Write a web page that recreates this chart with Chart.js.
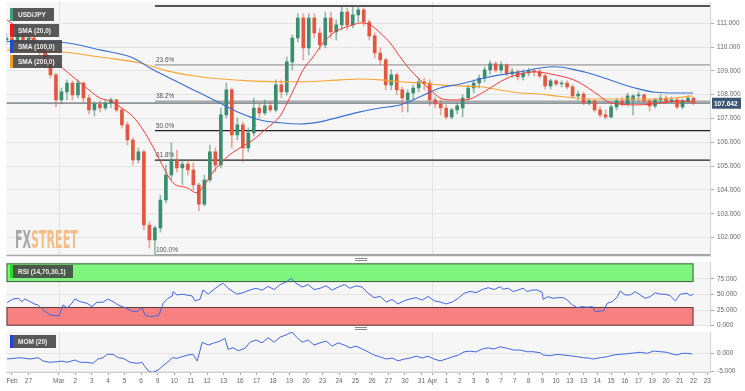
<!DOCTYPE html>
<html>
<head>
<meta charset="utf-8">
<script src="https://cdn.jsdelivr.net/npm/chart.js@4.4.1/dist/chart.umd.min.js"></script>
<style>
body{margin:0;background:#fff;width:745px;height:391px;overflow:hidden;position:relative;font-family:Arial,"Liberation Sans",sans-serif}
canvas{position:absolute;left:0}
.tag{position:absolute;left:10px;height:13px;box-sizing:border-box;border-left:3px solid;background:rgba(66,66,66,.88);color:#eee;font:bold 6.5px Arial,"Liberation Sans",sans-serif;line-height:13px;padding-left:5px;white-space:nowrap}
.handle{position:absolute;left:355px;width:12px;height:1px;border-top:1px solid #888;border-bottom:1px solid #888}
#wm{position:absolute;left:15px;top:226px;font:bold 24px "Liberation Sans Narrow","DejaVu Sans Condensed",Arial,sans-serif;white-space:nowrap;transform-origin:0 0;opacity:.85}
</style>
</head>
<body>
<canvas id="cMain" width="745" height="258" style="top:0"></canvas>
<canvas id="cRsi" width="745" height="70" style="top:258px"></canvas>
<canvas id="cMom" width="745" height="63" style="top:328px"></canvas>

<div class="tag" style="top:8px;width:44px;border-color:#3fa07e">USD/JPY</div>
<div class="tag" style="top:24px;width:49px;border-color:#ee1c1c">SMA (20,0)</div>
<div class="tag" style="top:39.5px;width:52px;border-color:#2050c0">SMA (100,0)</div>
<div class="tag" style="top:55px;width:52px;border-color:#f39c26">SMA (200,0)</div>
<div class="tag" style="top:265px;width:63px;border-color:#22dd22">RSI (14,70,30,1)</div>
<div class="tag" style="top:335px;width:46px;border-color:#2040e0">MOM (20)</div>
<div class="handle" style="top:258px"></div>
<div class="handle" style="top:327px"></div>
<div id="wm"><span style="color:#9a9a9a">FX</span><span style="color:#f3b676">STREET</span></div>

<script>
// 8h candles, one every 2 steps of the x index
const candleOpen = [
  110.30, 110.38, 110.21, 110.47, 110.30, 110.38, 110.13, 109.79, 109.38, 108.83,
  107.78, 108.12, 108.49, 107.99, 108.49, 107.86, 107.36, 107.61, 107.44, 107.65,
  107.78, 107.36, 106.73, 106.10, 105.26, 105.60, 102.53, 101.90, 102.41, 103.58,
  104.63, 105.26, 104.93, 105.09, 104.84, 104.21, 103.41, 104.42, 105.60, 105.05,
  107.15, 108.20, 106.31, 106.73, 105.77, 106.40, 107.44, 107.23, 107.53, 107.36,
  108.41, 108.12, 109.38, 110.38, 111.22, 109.96, 111.22, 110.59, 110.09, 111.22,
  110.63, 110.93, 111.47, 110.93, 111.35, 111.56, 111.05, 110.47, 109.75, 109.46,
  108.41, 108.83, 108.20, 107.78, 108.07, 108.28, 108.54, 108.49, 107.78, 107.61,
  107.44, 107.07, 107.36, 107.44, 107.86, 108.28, 108.49, 108.70, 109.04, 109.29,
  109.04, 109.25, 108.87, 108.96, 108.75, 108.91, 109.00, 108.96, 108.79, 108.37,
  108.58, 108.45, 108.49, 108.33, 107.95, 108.03, 107.65, 107.74, 107.36, 107.15,
  107.07, 107.49, 107.74, 107.61, 107.78, 107.95, 107.99, 107.74, 107.53, 107.78,
  107.86, 107.74, 107.78, 107.49, 107.74, 107.86
];
const candleHigh = [
  110.55, 110.63, 110.72, 110.63, 110.55, 110.51, 110.21, 109.96, 109.54, 108.91,
  108.28, 108.62, 108.58, 108.62, 108.54, 107.99, 107.70, 107.74, 107.78, 107.86,
  107.82, 107.44, 106.86, 106.19, 105.77, 105.68, 102.66, 102.49, 103.79, 105.05,
  105.98, 105.68, 105.26, 105.26, 105.14, 104.30, 104.63, 105.89, 105.77, 107.44,
  108.49, 108.28, 107.02, 106.86, 106.61, 107.86, 107.65, 107.78, 107.70, 108.62,
  108.62, 109.58, 110.51, 111.39, 111.39, 111.39, 111.39, 110.80, 111.47, 111.47,
  111.14, 111.68, 111.64, 111.68, 111.73, 111.64, 111.14, 110.59, 109.96, 109.54,
  109.04, 108.91, 108.33, 108.20, 108.41, 108.70, 108.70, 108.62, 107.91, 107.78,
  107.57, 107.44, 107.65, 107.99, 108.41, 108.62, 108.83, 109.17, 109.42, 109.38,
  109.38, 109.29, 109.12, 109.04, 109.04, 109.12, 109.08, 109.08, 108.87, 108.66,
  108.62, 108.58, 108.58, 108.41, 108.16, 108.12, 107.82, 107.78, 107.49, 107.36,
  107.57, 107.86, 107.91, 108.07, 107.99, 108.12, 108.03, 107.82, 107.86, 107.99,
  107.95, 107.91, 107.86, 107.82, 107.95, 107.91
];
const candleLow = [
  110.13, 110.09, 110.13, 110.13, 110.05, 109.96, 109.67, 109.12, 108.70, 107.49,
  107.61, 107.78, 107.78, 107.86, 107.70, 107.19, 107.11, 107.28, 107.36, 107.44,
  107.28, 106.61, 105.89, 105.05, 105.14, 102.32, 101.57, 101.32, 102.24, 103.46,
  104.42, 104.76, 104.21, 104.63, 104.00, 103.12, 103.33, 104.34, 104.76, 104.93,
  107.02, 105.77, 106.10, 105.18, 105.60, 106.27, 107.02, 107.15, 107.28, 107.28,
  107.86, 107.99, 109.04, 110.21, 109.46, 109.67, 110.38, 109.88, 109.96, 110.38,
  110.30, 110.72, 110.72, 110.80, 111.05, 110.89, 110.30, 109.54, 109.25, 108.20,
  108.20, 107.99, 107.28, 107.28, 107.78, 108.12, 108.20, 107.53, 107.44, 107.15,
  106.98, 106.98, 107.19, 107.07, 107.78, 108.07, 108.28, 108.54, 108.87, 108.96,
  108.91, 108.79, 108.70, 108.62, 108.62, 108.79, 108.79, 108.70, 108.24, 108.24,
  108.37, 108.33, 108.24, 107.86, 107.78, 107.57, 107.57, 107.28, 107.07, 106.98,
  107.02, 107.36, 107.53, 107.53, 107.15, 107.70, 107.65, 107.32, 107.44, 107.65,
  107.65, 107.65, 107.40, 107.40, 107.65, 107.57
];
const candleClose = [
  110.38, 110.21, 110.47, 110.30, 110.38, 110.13, 109.79, 109.38, 108.83, 107.78,
  108.12, 108.49, 107.99, 108.49, 107.86, 107.36, 107.61, 107.44, 107.65, 107.78,
  107.36, 106.73, 106.10, 105.26, 105.60, 102.53, 101.90, 102.41, 103.58, 104.63,
  105.26, 104.93, 105.09, 104.84, 104.21, 103.41, 104.42, 105.60, 105.05, 107.15,
  108.20, 106.31, 106.73, 105.77, 106.40, 107.44, 107.23, 107.53, 107.36, 108.41,
  108.12, 109.38, 110.38, 111.22, 109.96, 111.22, 110.59, 110.09, 111.22, 110.63,
  110.93, 111.47, 110.93, 111.35, 111.56, 111.05, 110.47, 109.75, 109.46, 108.41,
  108.83, 108.20, 107.86, 108.07, 108.28, 108.54, 108.49, 107.78, 107.61, 107.44,
  107.07, 107.36, 107.53, 107.86, 108.28, 108.49, 108.70, 109.04, 109.29, 109.04,
  109.25, 108.87, 108.96, 108.75, 108.91, 109.00, 108.96, 108.79, 108.37, 108.58,
  108.45, 108.49, 108.33, 107.95, 108.03, 107.65, 107.74, 107.36, 107.15, 107.07,
  107.49, 107.74, 107.61, 107.95, 107.95, 107.99, 107.74, 107.53, 107.78, 107.86,
  107.74, 107.78, 107.49, 107.74, 107.86, 107.642
];

// moving averages (x index, value)
const sma20Idx = [0.2, 9.6, 15.8, 22.0, 27.8, 34.0, 38.8, 41.3, 46.1, 49.7, 53.3, 57.0, 60.6, 65.7, 69.3, 71.5, 75.2, 80.3, 85.0, 89.7,
  94.8, 99.6, 102.1, 105.0, 107.9, 111.6, 115.2, 118.9, 122.5, 126.1, 128.7, 132.3, 136.0, 139.6, 143.2, 146.9, 150.5, 154.2, 157.8, 161.4,
  165.1, 168.7, 172.4, 176.0, 179.6, 183.3, 186.9, 192.4, 199.7, 204.4, 208.0, 211.7, 215.3, 218.9, 222.6, 228.8, 235.0, 240.8, 245.9, 249.5];
const sma20Val = [111.14, 110.30, 109.58, 108.96, 108.41, 107.86, 107.70, 107.49, 107.07, 106.52, 105.81, 104.97, 104.30, 104.09, 103.88, 104.13, 104.76, 105.39, 105.77, 106.10,
  106.60, 107.11, 107.65, 108.33, 109.04, 109.59, 110.17, 110.59, 110.80, 110.93, 111.01, 110.93, 110.59, 110.17, 109.59, 109.04, 108.62, 108.20, 107.86, 107.78,
  107.78, 107.82, 108.03, 108.28, 108.54, 108.75, 108.87, 108.96, 108.83, 108.70, 108.54, 108.28, 107.99, 107.70, 107.61, 107.57, 107.61, 107.70, 107.74, 107.70];
const sma100Idx = [0.2, 20.6, 34.0, 46.1, 52.2, 58.4, 65.7, 70.4, 77.7, 85.0, 92.3, 99.6, 106.8, 114.1, 121.4, 128.7, 136.0,
  143.2, 150.5, 157.8, 165.1, 172.4, 179.6, 186.9, 194.2, 199.7, 207.0, 214.2, 221.5, 228.8, 236.1, 243.4, 249.9];
const sma100Val = [110.23, 110.19, 109.88, 109.54, 109.12, 108.75, 108.33, 108.07, 107.65, 107.23, 106.94, 106.82, 106.77, 106.86, 107.07, 107.28, 107.44,
  107.57, 107.91, 108.28, 108.45, 108.66, 108.83, 108.96, 109.12, 109.17, 109.04, 108.83, 108.54, 108.28, 108.10, 108.07, 108.07];
const sma200Idx = [0.2, 20.6, 34.0, 48.6, 58.4, 70.4, 88.6, 106.8, 121.4, 128.7, 136.0, 143.2, 150.5, 157.8, 165.1, 172.4, 179.6,
  186.9, 194.2, 199.7, 207.0, 214.2, 228.8, 236.1, 243.4, 249.5];
const sma200Val = [109.88, 109.79, 109.58, 109.33, 109.00, 108.75, 108.58, 108.54, 108.62, 108.66, 108.62, 108.54, 108.49, 108.41, 108.37, 108.33, 108.20,
  108.07, 108.03, 107.95, 107.86, 107.82, 107.82, 107.82, 107.86, 107.95];

// RSI (14)
const rsiIdx = [0.2, 2.4, 4.2, 5.6, 6.7, 8.6, 10.4, 11.5, 13.3, 15.8, 19.1, 20.6, 22.0, 23.5, 24.9, 26.8, 29.3, 31.1, 32.9, 35.1,
  36.9, 38.8, 40.6, 43.1, 45.7, 47.5, 49.3, 50.4, 52.2, 54.1, 55.5, 57.0, 58.8, 60.3, 60.6, 62.1, 63.9, 67.5, 68.6, 70.4,
  71.5, 73.4, 75.2, 77.7, 78.8, 80.6, 83.9, 86.1, 88.6, 90.8, 93.0, 95.2, 97.4, 99.6, 101.7, 103.6, 105.4, 107.6, 109.8, 111.9,
  114.1, 116.3, 118.5, 120.7, 122.9, 125.0, 127.2, 129.4, 131.6, 133.8, 136.0, 138.2, 140.3, 142.5, 144.7, 146.9, 149.1, 151.3, 153.4, 155.6,
  157.8, 160.0, 162.2, 164.4, 166.5, 168.7, 170.9, 173.1, 175.3, 177.5, 179.6, 180.7, 182.6, 184.4, 186.2, 188.0, 189.5, 191.3, 193.1, 194.9,
  195.3, 197.1, 198.9, 200.8, 202.6, 204.0, 205.9, 207.7, 209.5, 211.3, 213.2, 214.2, 216.1, 217.2, 218.6, 220.5, 222.3, 223.3, 225.1, 227.0,
  228.8, 230.6, 232.4, 234.3, 236.1, 237.9, 239.7, 241.5, 243.4, 245.2, 247.7, 248.8, 249.9];
const rsiVal = [37.0, 42.9, 44.0, 38.6, 42.9, 38.6, 34.4, 33.3, 25.3, 17.2, 15.6, 33.3, 28.5, 34.4, 42.9, 38.6, 36.0, 30.6, 37.6, 37.6,
  42.9, 38.6, 33.3, 28.9, 23.6, 22.5, 28.9, 17.2, 14.5, 15.6, 17.2, 36.0, 44.0, 47.7, 54.6, 49.3, 50.5, 47.7, 39.7, 42.4,
  57.3, 50.5, 57.3, 65.4, 68.1, 60.1, 50.5, 53.0, 57.3, 60, 57, 63, 58, 66, 70, 76, 68, 62, 66, 58,
  60, 64, 57, 62, 66, 60, 64, 62, 52, 45, 47, 38, 42, 35, 40, 43, 45, 41, 47, 40,
  38, 35, 38, 44, 52, 55, 53, 58, 61, 58, 62.6, 58.5, 60.1, 54.6, 57.3, 60.1, 54.6, 57.3, 57.3, 53.6,
  42.4, 46.6, 44.0, 45.0, 45.0, 41.3, 33.3, 28.9, 30.6, 29.6, 30.6, 22.5, 23.6, 23.6, 36.0, 38.6, 46.6, 55.7, 49.3, 49.3,
  54.6, 49.3, 44.0, 46.6, 53.0, 50.5, 50.5, 48.2, 39.7, 50.5, 52.1, 48.2, 50.5];

// Momentum (20)
const momIdx = [0.2, 4.9, 8.6, 11.5, 13.3, 15.8, 18.4, 20.2, 22.0, 24.9, 26.8, 29.3, 31.5, 33.3, 35.1, 36.6, 38.8, 40.6, 42.4, 45.0,
  47.5, 49.3, 50.4, 51.9, 53.3, 55.2, 57.0, 58.8, 60.3, 62.1, 63.9, 66.1, 67.9, 69.4, 71.2, 73.4, 75.2, 77.7, 79.5, 80.6,
  82.5, 84.3, 86.8, 88.6, 90.8, 93.0, 95.2, 97.4, 99.6, 101.7, 103.9, 105.8, 107.6, 109.8, 111.9, 114.1, 116.3, 118.5, 120.7, 122.9,
  125.0, 127.2, 129.4, 131.6, 133.8, 136.0, 138.2, 140.3, 142.5, 144.7, 146.9, 149.1, 151.3, 153.4, 155.6, 157.8, 160.0, 162.2, 164.4, 166.5,
  168.7, 170.9, 173.1, 175.3, 177.5, 179.6, 182.2, 184.4, 186.9, 189.5, 191.6, 194.2, 195.3, 197.9, 200.4, 202.6, 205.1, 207.7, 209.9, 212.4,
  213.5, 216.1, 218.6, 220.8, 223.3, 225.9, 228.1, 230.6, 233.2, 235.4, 237.9, 240.4, 242.6, 244.1, 245.9, 247.7, 249.5];
const momVal = [-1.58, -1.22, -1.58, -1.22, -2.14, -2.50, -2.33, -2.14, -2.50, -1.86, -2.50, -2.50, -2.78, -1.58, -1.22, -0.28, -0.28, -1.22, -1.39, -2.50,
  -2.78, -2.50, -3.72, -5.11, -5.28, -4.64, -3.44, -2.33, -1.22, -1.39, -0.94, -0.47, -0.28, -2.14, 3.06, 2.31, 2.78, 3.42, 4.17, 1.11,
  1.56, 0.72, 1.39, 3.06, 3.7, 2.9, 4.3, 3.1, 4.5, 5.1, 5.9, 4.3, 3.1, 3.7, 2.3, 2.9, 3.4, 2.0, 2.9, 2.3,
  1.5, 2.0, 1.2, 0.4, -0.5, -1.0, -1.6, -1.3, -2.1, -1.6, -1.3, -0.8, -1.3, -0.8, -1.6, -2.1, -1.6, -1.0, -0.5, 0.4,
  0.6, 0.4, 1.2, 1.5, 1.2, 1.83, 1.39, 0.92, 0.92, 0.44, 0.44, 0.17, -0.47, -0.67, -0.28, -0.47, -0.67, -0.94, -1.22, -1.39,
  -1.58, -1.22, -0.94, -0.47, -0.28, -0.11, 0.08, 0.28, 0.00, 0.64, 0.44, 0.28, -0.28, -0.47, 0.00, 0.00, -0.19];

// fibonacci retracement, swing high to swing low
const fibLevels = [111.72, 109.25, 107.72, 106.49, 105.25, 101.25];
const fibLabels = ['', '23.6%', '38.2%', '50.0%', '61.8%', '100.0%'];
const fibStart = 54;
const lastPrice = 107.642;

// axes
const priceTicks = [102, 103, 104, 105, 106, 107, 108, 109, 110, 111];
const rsiTicks = [0, 25, 50, 75];
const rsiUpper = 70, rsiLower = 30, rsiEnd = 250;
const momTicks = [-5, 0];
const monthIdx = [19, 155];
const xTickIdx = [2, 8, 19, 25, 31, 37, 43, 49, 55, 61, 67, 73, 79, 85, 91, 97, 103, 109, 115, 121, 127, 133, 139, 145, 151,
  155, 160, 165, 170, 175, 180, 185, 190, 195, 200, 205, 210, 215, 220, 225, 230, 235, 240, 245, 250, 255];
const xTickLabels = ['Feb', '27', 'Mar', '2', '3', '4', '5', '6', '9', '10', '11', '12', '13', '16', '17', '18', '19', '20', '23', '24', '25', '26', '27', '30', '31',
  'Apr', '1', '2', '3', '6', '7', '7', '8', '9', '10', '13', '13', '14', '15', '16', '17', '19', '20', '21', '22', '23'];

Chart.defaults.font.family = 'Arial, "Liberation Sans", sans-serif';
Chart.defaults.font.size = 6.5;
Chart.defaults.color = '#666';

const X_MAX = 256;
const upCol = '#3b8d6f', downCol = '#e2573f';
const candleX = candleOpen.map((_, k) => k * 2);
const isUp = candleOpen.map((o, k) => candleClose[k] >= o);

const pts = (xs, ys) => xs.map((x, i) => ({ x, y: ys[i] }));

const yAxis = (min, max, ticks) => ({
  position: 'right', min, max,
  afterBuildTicks: s => { s.ticks = ticks.map(v => ({ value: v })); },
  afterFit: s => { s.width = 35; s.paddingTop = 0; s.paddingBottom = 0; },
  ticks: { callback: v => v.toFixed(3), padding: 3, color: '#666' },
  grid: { color: '#e4e4e4', tickColor: '#aaa', tickLength: 4 },
  border: { color: '#d2d2d2' }
});

const base = {
  responsive: false, animation: false, events: [],
  plugins: { legend: { display: false }, tooltip: { enabled: false } }
};

function paintBg(chart) {
  const { ctx, chartArea: a } = chart;
  ctx.save();
  ctx.fillStyle = '#f6f6f6';
  ctx.fillRect(a.left, a.top, a.right - a.left, a.bottom - a.top);
  ctx.restore();
}
function monthLines(chart) {
  const { ctx, chartArea: a, scales: { x } } = chart;
  ctx.save();
  ctx.strokeStyle = '#e3e3e3';
  ctx.lineWidth = 1;
  monthIdx.forEach(m => {
    const px = Math.round(x.getPixelForValue(m)) + 0.5;
    ctx.beginPath(); ctx.moveTo(px, a.top); ctx.lineTo(px, a.bottom); ctx.stroke();
  });
  ctx.restore();
}

const fibColors = ['#1e1e1e', '#b4b4b4', '#a8a8a8', '#1e1e1e', '#1e1e1e', '#a0a0a0'];
const fibWidths = [1.6, 1.6, 1.6, 1.3, 1.3, 1.8];

const mainDecor = {
  id: 'mainDecor',
  beforeDraw: paintBg,
  beforeDatasetsDraw(chart) {
    monthLines(chart);
    const { ctx, chartArea: a, scales: { x, y } } = chart;
    ctx.save();
    const x0 = x.getPixelForValue(fibStart);
    ctx.font = '6.5px Arial, "Liberation Sans", sans-serif';
    ctx.textBaseline = 'bottom';
    fibLevels.forEach((lv, i) => {
      const py = Math.min(y.getPixelForValue(lv), a.bottom - 1);
      ctx.strokeStyle = fibColors[i];
      ctx.lineWidth = fibWidths[i];
      ctx.beginPath(); ctx.moveTo(x0, py); ctx.lineTo(a.right, py); ctx.stroke();
      if (fibLabels[i]) {
        ctx.fillStyle = '#555';
        ctx.fillText(fibLabels[i], x0 + 1, py - 1.5);
      }
    });
    // bottom border of the price panel
    ctx.strokeStyle = '#a8a8a8';
    ctx.lineWidth = 1.5;
    ctx.beginPath(); ctx.moveTo(a.left, a.bottom - 0.5); ctx.lineTo(a.right, a.bottom - 0.5); ctx.stroke();
    // last price line
    const pp = y.getPixelForValue(lastPrice);
    ctx.strokeStyle = '#8d949c';
    ctx.lineWidth = 1.8;
    ctx.beginPath(); ctx.moveTo(a.left, pp); ctx.lineTo(a.right, pp); ctx.stroke();
    ctx.restore();
  },
  afterDraw(chart) {
    const { ctx, chartArea: a, scales: { y } } = chart;
    const pp = y.getPixelForValue(lastPrice);
    ctx.save();
    ctx.fillStyle = '#3e5676';
    ctx.fillRect(a.right + 2, pp - 5.5, 29, 11);
    ctx.fillStyle = '#fff';
    ctx.font = 'bold 6.5px Arial, "Liberation Sans", sans-serif';
    ctx.textBaseline = 'middle';
    ctx.fillText(lastPrice.toFixed(3), a.right + 4, pp + 0.5);
    ctx.restore();
  }
};

new Chart(document.getElementById('cMain'), {
  type: 'bar',
  data: {
    datasets: [
      { type: 'line', data: pts(sma20Idx, sma20Val), borderColor: '#f23a3a', borderWidth: 1, pointRadius: 0, cubicInterpolationMode: 'monotone', order: 0 },
      { type: 'line', data: pts(sma100Idx, sma100Val), borderColor: '#3a6fd0', borderWidth: 1.1, pointRadius: 0, cubicInterpolationMode: 'monotone', order: 0 },
      { type: 'line', data: pts(sma200Idx, sma200Val), borderColor: '#f7a535', borderWidth: 1.1, pointRadius: 0, cubicInterpolationMode: 'monotone', order: 0 },
      { data: candleX.map((x, k) => ({ x, y: [candleOpen[k], candleClose[k]] })),
        backgroundColor: isUp.map(u => u ? upCol : downCol), barThickness: 3, minBarLength: 1, grouped: false, order: 1 },
      { data: candleX.map((x, k) => ({ x, y: [candleLow[k], candleHigh[k]] })),
        backgroundColor: isUp.map(u => u ? 'rgba(59,141,111,0.55)' : 'rgba(226,87,63,0.5)'), barThickness: 1, grouped: false, order: 2 }
    ]
  },
  options: Object.assign({}, base, {
    layout: { padding: { left: 6.5, top: 2, bottom: 2, right: 0 } },
    scales: {
      x: { type: 'linear', min: 0, max: X_MAX, display: false, offset: false },
      y: yAxis(101.23, 111.89, priceTicks)
    }
  }),
  plugins: [mainDecor]
});

const rsiDecor = {
  id: 'rsiDecor',
  beforeDraw: paintBg,
  beforeDatasetsDraw(chart) {
    monthLines(chart);
    const { ctx, chartArea: a, scales: { x, y } } = chart;
    const xe = x.getPixelForValue(rsiEnd);
    ctx.save();
    const zone = (lo, hi, fill) => {
      const t = y.getPixelForValue(hi), b = y.getPixelForValue(lo);
      ctx.fillStyle = fill;
      ctx.fillRect(a.left, t, xe - a.left, b - t);
      ctx.strokeStyle = 'rgba(40,40,40,0.75)';
      ctx.lineWidth = 1;
      ctx.strokeRect(a.left + 0.5, t + 0.5, xe - a.left - 1, b - t - 1);
    };
    zone(rsiUpper, 100, '#7ef57e');
    zone(0, rsiLower, '#f78080');
    ctx.restore();
  }
};

new Chart(document.getElementById('cRsi'), {
  type: 'line',
  data: { datasets: [{ data: pts(rsiIdx, rsiVal), borderColor: '#4266e0', borderWidth: 1, pointRadius: 0, tension: 0 }] },
  options: Object.assign({}, base, {
    layout: { padding: { left: 6.5, top: 4, bottom: 2, right: 0 } },
    scales: {
      x: { type: 'linear', min: 0, max: X_MAX, display: false, offset: false },
      y: yAxis(-0.5, 102.2, rsiTicks)
    }
  }),
  plugins: [rsiDecor]
});

new Chart(document.getElementById('cMom'), {
  type: 'line',
  data: { datasets: [{ data: pts(momIdx, momVal), borderColor: '#4266e0', borderWidth: 1, pointRadius: 0, tension: 0 }] },
  options: Object.assign({}, base, {
    layout: { padding: { left: 6.5, top: 4, bottom: 0, right: 0 } },
    scales: {
      x: {
        type: 'linear', min: 0, max: X_MAX, offset: false,
        afterBuildTicks: s => { s.ticks = xTickIdx.map(v => ({ value: v })); },
        afterFit: s => { s.height = 19; s.paddingLeft = 0; s.paddingRight = 0; },
        ticks: { autoSkip: false, maxRotation: 0, minRotation: 0, padding: 2, color: '#666', callback: (v, i) => xTickLabels[i] },
        grid: { drawOnChartArea: false, tickLength: 3, color: '#aaa' },
        border: { color: '#cfcfcf' }
      },
      y: yAxis(-5.19, 5.92, momTicks)
    }
  }),
  plugins: [{ id: 'momDecor', beforeDraw: paintBg, beforeDatasetsDraw: monthLines }]
});

// squeeze the watermark to its width in the picture
const wm = document.getElementById('wm');
wm.style.transform = 'scaleX(' + (63 / wm.scrollWidth) + ')';
</script>
</body>
</html>
